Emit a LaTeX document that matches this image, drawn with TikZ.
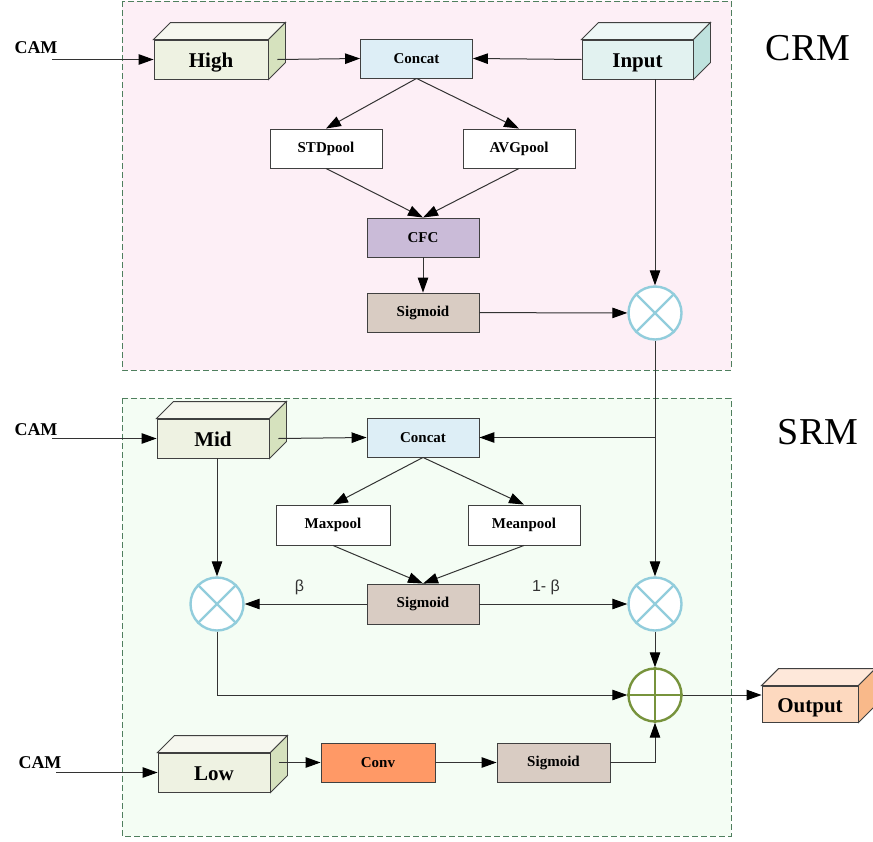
\documentclass[tikz,border=0pt]{standalone}
\usepackage{fontspec}
\setmainfont{Liberation Serif}
\newfontfamily\labfont{Liberation Sans}
\usetikzlibrary{arrows.meta,positioning,calc}
\definecolor{crmbg}{HTML}{FDEFF6}
\definecolor{srmbg}{HTML}{F4FDF4}
\definecolor{regline}{HTML}{4F7F5E}
\definecolor{greenfront}{HTML}{EEF2E2}
\definecolor{greentop}{HTML}{F6F7EF}
\definecolor{greenside}{HTML}{D6E2BE}
\definecolor{tealfront}{HTML}{E2F2F0}
\definecolor{tealtop}{HTML}{EEF7F6}
\definecolor{tealside}{HTML}{BFE2DE}
\definecolor{orfront}{HTML}{FDD9BF}
\definecolor{ortop}{HTML}{FEE8DA}
\definecolor{orside}{HTML}{F9B98A}
\definecolor{concatc}{HTML}{DDEEF6}
\definecolor{cfcc}{HTML}{CABBD8}
\definecolor{sigc}{HTML}{D9CCC3}
\definecolor{convc}{HTML}{FF9966}
\definecolor{mulc}{HTML}{92CDDC}
\definecolor{addc}{HTML}{77933C}
% top and side faces of a block
\newcommand{\cubefaces}[3]{%
  \draw[line width=0.9pt, black!75, fill=#2] (#1.north west) -- ++(17,-17) -- ($(#1.north east)+(17,-17)$) -- (#1.north east) -- cycle;
  \draw[line width=0.9pt, black!75, fill=#3] (#1.north east) -- ++(17,-17) -- ($(#1.south east)+(17,-17)$) -- (#1.south east) -- cycle;}

\begin{document}
\begin{tikzpicture}[x=1pt, y=-1pt,
  box/.style={draw=black!75, line width=0.9pt, minimum width=112pt, minimum height=39pt, inner sep=0pt, font=\bfseries\fontsize{15}{17}\selectfont},
  cube/.style={draw=black!75, line width=0.9pt, minimum width=112pt, minimum height=39pt, inner sep=0pt, text height=18pt, text depth=2pt, font=\bfseries\fontsize{21}{24}\selectfont},
  mul/.style={circle, draw=mulc, line width=2.4pt, fill=white, minimum size=53pt, inner sep=0pt},
  add/.style={circle, draw=addc, line width=2.4pt, fill=white, minimum size=53pt, inner sep=0pt},
  region/.style={draw=regline, dash pattern=on 6pt off 3pt, line width=0.8pt},
  cam/.style={font=\bfseries\fontsize{18}{20}\selectfont},
  tag/.style={font=\fontsize{38}{40}\selectfont},
  lab/.style={font=\labfont\fontsize{16}{18}\selectfont, text=black!80},
  arr/.style={-{Triangle[length=15pt,width=10.5pt,black]}, line width=1pt, black!80}]
  \useasboundingbox (0,0) rectangle (873,841);
  % the two modules
  \draw[region, fill=crmbg] (122,1) rectangle (731,370);
  \draw[region, fill=srmbg] (122,398) rectangle (731,836);
  \node[tag] (crm) at (808,48) {CRM};
  \node[tag] (srm) at (818,432) {SRM};

  % CRM
  \node[cube, fill=greenfront, minimum width=114pt] (high) at (211,59.5) {High};
  \cubefaces{high}{greentop}{greenside}
  \node[cube, fill=tealfront, minimum width=111pt] (input) at (637.5,59.5) {Input};
  \cubefaces{input}{tealtop}{tealside}
  \node[box, fill=concatc] (cat1) at (416.5,58.5) {Concat};
  \node[box, fill=white] (std) at (326,148.5) {STDpool};
  \node[box, fill=white] (avg) at (519,148.5) {AVGpool};
  \node[box, fill=cfcc] (cfc) at (423,237.5) {CFC};
  \node[box, fill=sigc] (sig1) at (423,312.5) {Sigmoid};
  \node[mul] (mul1) at (655,313) {};

  % SRM
  \node[cube, fill=greenfront] (mid) at (213,438.5) {Mid};
  \cubefaces{mid}{greentop}{greenside}
  \node[box, fill=concatc] (cat2) at (423,437.5) {Concat};
  \node[box, fill=white, minimum width=114pt, minimum height=40pt] (maxp) at (333,525) {Maxpool};
  \node[box, fill=white, minimum height=40pt] (meanp) at (524,525) {Meanpool};
  \node[box, fill=sigc, minimum height=40pt] (sig2) at (423,604) {Sigmoid};
  \node[mul] (mulL) at (217,604) {};
  \node[mul] (mulR) at (655,604) {};
  \node[add] (sum) at (655,695) {};
  \node[cube, fill=greenfront] (low) at (214,772.5) {Low};
  \cubefaces{low}{greentop}{greenside}
  \node[box, fill=convc, minimum width=114pt] (conv) at (378,762.5) {Conv};
  \node[box, fill=sigc, minimum width=113pt] (sig3) at (553.5,762.5) {Sigmoid};
  \node[cube, fill=orfront, minimum width=96pt, minimum height=36pt] (out) at (810,704) {Output};
  \cubefaces{out}{ortop}{orside}

  % signs in the circles
  \foreach \m in {mul1,mulL,mulR}{
    \draw[mulc, line width=2.4pt] (\m.45) -- (\m.225) (\m.135) -- (\m.315);
  }
  \draw[addc, line width=2.4pt] (sum.north) -- (sum.south) (sum.west) -- (sum.east);

  % inputs
  \node[cam] (cam1) at (36,48) {CAM};
  \node[cam] (cam2) at (36,430) {CAM};
  \node[cam] (cam3) at (40,763) {CAM};
  \coordinate (c1) at (52,59.5);
  \coordinate (c2) at (52,438.5);
  \coordinate (c3) at (56,772.5);
  \draw[arr] (c1) -- (high.west);
  \draw[arr] (c2) -- (mid.west);
  \draw[arr] (c3) -- (low.west);

  % connectors
  \draw[arr] ($(high.east)+(9,0)$) -- (cat1.west);
  \draw[arr] (input.west) -- (cat1.east);
  \draw[arr] (cat1.south) -- (std.north);
  \draw[arr] (cat1.south) -- (avg.north);
  \draw[arr] (std.south) -- (cfc.north);
  \draw[arr] (avg.south) -- (cfc.north);
  \draw[arr] (cfc) -- (sig1);
  \draw[arr] (sig1) -- (mul1);
  \draw[arr] (mul1 |- input.south) -- (mul1.north);
  \draw[arr] (mul1.south) -- (mulR.north);
  \draw[arr] (mul1 |- cat2.east) -- (cat2.east);
  \draw[arr] ($(mid.east)+(9,0)$) -- (cat2.west);
  \draw[arr] (mulL |- mid.south) -- (mulL.north);
  \draw[arr] (cat2.south) -- (maxp.north);
  \draw[arr] (cat2.south) -- (meanp.north);
  \draw[arr] (maxp.south) -- (sig2.north);
  \draw[arr] (meanp.south) -- (sig2.north);
  \draw[arr] (sig2.west) -- node[lab, above=5pt, pos=0.55] {β} (mulL.east);
  \draw[arr] (sig2.east) -- node[lab, above=5pt, pos=0.45] {1- β} (mulR.west);
  \draw[arr] (mulR.south) -- (sum.north);
  \draw[arr] (mulL.south) |- (sum.west);
  \draw[arr] ($(low.east)+(9,-10)$) -- (conv.west);
  \draw[arr] (conv) -- (sig3);
  \draw[arr] (sig3.east) -| (sum.south);
  \draw[arr] (sum.east) -- (sum.east -| out.west);
\end{tikzpicture}
\end{document}
